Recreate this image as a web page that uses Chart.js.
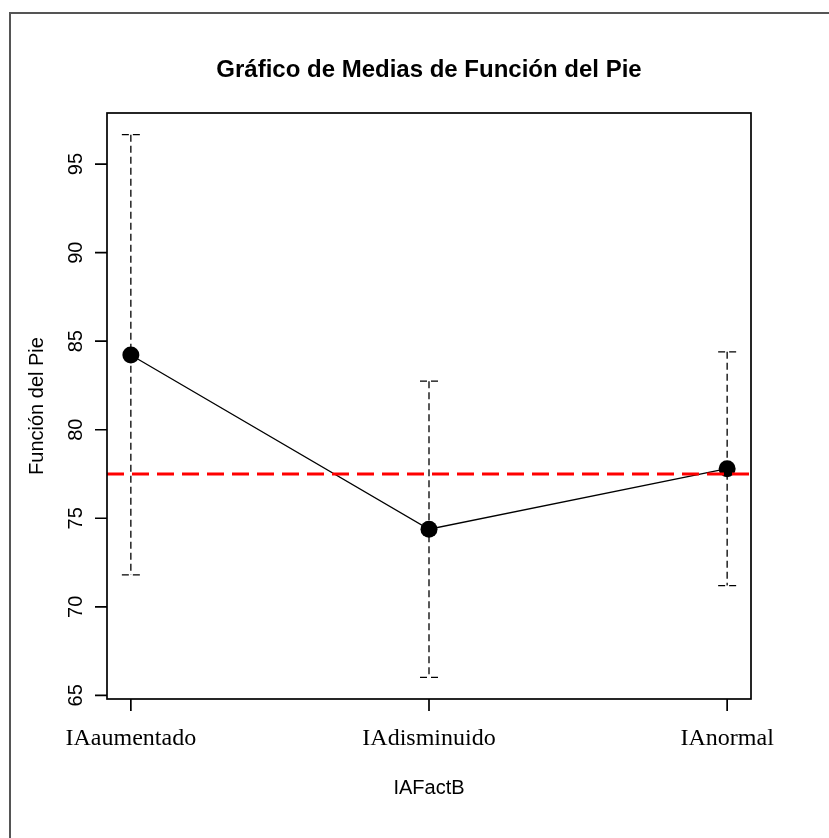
<!DOCTYPE html>
<html>
<head>
<meta charset="utf-8">
<script src="https://cdn.jsdelivr.net/npm/chart.js@4.4.1/dist/chart.umd.min.js"></script>
<style>
  html, body { margin: 0; padding: 0; background: #fff; }
  #wrap { position: relative; width: 829px; height: 838px; overflow: hidden; }
  #frame { position: absolute; left: 9px; top: 12px; width: 900px; height: 900px;
           border-top: 2px solid #555; border-left: 2px solid #555; }
  canvas { position: absolute; left: 0; top: 0; }
</style>
</head>
<body>
<div id="wrap">
  <div id="frame"></div>
  <canvas id="chart" width="829" height="838"></canvas>
</div>
<script>
// values
const groups = ["IAaumentado", "IAdisminuido", "IAnormal"];
const groupPos = [1, 2, 3];
const means = [84.22, 74.38, 77.80];
const lowerCI = [71.80, 66.02, 71.20];
const upperCI = [96.66, 82.74, 84.40];
const grandMean = 77.5;
const yTicks = [65, 70, 75, 80, 85, 90, 95];

const titleText = "Gráfico de Medias de Función del Pie";
const xTitle = "IAFactB";
const yTitle = "Función del Pie";

// R style axis limits: data range stretched by 4% on each side
const yLo = Math.min(...lowerCI), yHi = Math.max(...upperCI);
const yPad = (yHi - yLo) * 0.04;
const xPad = (groupPos[groupPos.length - 1] - groupPos[0]) * 0.04;
const xLimits = [groupPos[0] - xPad, groupPos[groupPos.length - 1] + xPad];

const sans = "'Liberation Sans', Arial, sans-serif";
const serif = "'Liberation Serif', 'Times New Roman', serif";

const rPlot = {
  id: 'rPlot',
  beforeDatasetsDraw(chart) {
    const { ctx, scales: { x, y } } = chart;
    ctx.save();
    ctx.strokeStyle = '#000';
    ctx.lineWidth = 1.3;
    ctx.setLineDash([7, 4]);
    groupPos.forEach((g, i) => {
      const px = x.getPixelForValue(g);
      const top = y.getPixelForValue(upperCI[i]);
      const bot = y.getPixelForValue(lowerCI[i]);
      ctx.beginPath();
      ctx.moveTo(px, top);
      ctx.lineTo(px, bot);
      ctx.stroke();
      // caps
      ctx.beginPath();
      ctx.moveTo(px - 9, top);
      ctx.lineTo(px + 9, top);
      ctx.moveTo(px - 9, bot);
      ctx.lineTo(px + 9, bot);
      ctx.stroke();
    });
    ctx.restore();
  },
  afterDraw(chart) {
    const { ctx, chartArea: a, scales: { x, y } } = chart;
    ctx.save();
    ctx.strokeStyle = '#000';
    ctx.fillStyle = '#000';
    ctx.lineWidth = 1.7;
    ctx.setLineDash([]);
    // box
    ctx.strokeRect(a.left, a.top, a.right - a.left, a.bottom - a.top);

    // y axis ticks and labels
    ctx.beginPath();
    yTicks.forEach(v => {
      const py = y.getPixelForValue(v);
      ctx.moveTo(a.left - 12, py);
      ctx.lineTo(a.left, py);
    });
    ctx.stroke();
    ctx.font = '20px ' + sans;
    ctx.textAlign = 'center';
    ctx.textBaseline = 'alphabetic';
    yTicks.forEach(v => {
      const py = y.getPixelForValue(v);
      ctx.save();
      ctx.translate(a.left - 25, py);
      ctx.rotate(-Math.PI / 2);
      ctx.fillText(String(v), 0, 0);
      ctx.restore();
    });

    // x axis ticks and labels
    ctx.beginPath();
    groupPos.forEach(g => {
      const px = x.getPixelForValue(g);
      ctx.moveTo(px, a.bottom);
      ctx.lineTo(px, a.bottom + 12);
    });
    ctx.stroke();
    ctx.font = '24px ' + serif;
    ctx.textBaseline = 'alphabetic';
    groupPos.forEach((g, i) => {
      ctx.fillText(groups[i], x.getPixelForValue(g), a.bottom + 46);
    });

    // axis titles
    ctx.font = '20px ' + sans;
    ctx.fillText(xTitle, (a.left + a.right) / 2, a.bottom + 95);
    ctx.save();
    ctx.translate(43, (a.top + a.bottom) / 2);
    ctx.rotate(-Math.PI / 2);
    ctx.fillText(yTitle, 0, 0);
    ctx.restore();
    ctx.restore();
  }
};

new Chart(document.getElementById('chart'), {
  type: 'line',
  data: {
    datasets: [
      {
        label: 'grand mean',
        data: xLimits.map(v => ({ x: v, y: grandMean })),
        borderColor: '#ff0000',
        borderWidth: 3,
        borderDash: [17, 8],
        pointRadius: 0,
        order: 0
      },
      {
        label: 'means',
        data: groupPos.map((g, i) => ({ x: g, y: means[i] })),
        borderColor: '#000',
        borderWidth: 1.3,
        pointRadius: 8.5,
        pointBackgroundColor: '#000',
        pointBorderColor: '#000',
        pointBorderWidth: 0,
        order: 1
      }
    ]
  },
  plugins: [rPlot],
  options: {
    responsive: false,
    animation: false,
    layout: { padding: { left: 107, right: 78, top: 0, bottom: 139 } },
    plugins: {
      legend: { display: false },
      tooltip: { enabled: false },
      title: {
        display: true,
        text: titleText,
        color: '#000',
        font: { family: sans, size: 24, weight: 'bold' },
        padding: { top: 56, bottom: 28.2 }
      }
    },
    scales: {
      x: { type: 'linear', display: false, min: xLimits[0], max: xLimits[1] },
      y: { type: 'linear', display: false, min: yLo - yPad, max: yHi + yPad }
    }
  }
});
</script>
</body>
</html>
